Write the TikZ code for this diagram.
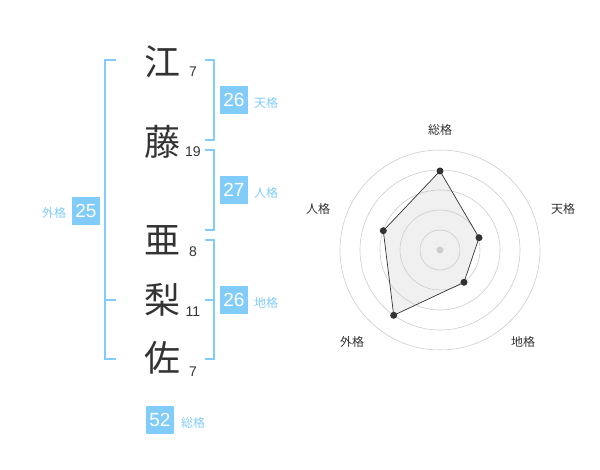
\documentclass[tikz,border=0pt]{standalone}
\usepackage{fontspec}
\setmainfont{Liberation Sans}
\newfontfamily\jp{Noto Sans CJK JP}
\definecolor{sky}{RGB}{130,204,250}
\definecolor{ink}{RGB}{51,51,51}
\definecolor{ring}{RGB}{204,204,204}
\tikzset{
  kanji/.style={font=\jp\fontsize{36}{36}\selectfont, text=ink, inner sep=0pt},
  strokes/.style={font=\fontsize{14}{14}\selectfont, text=ink, inner sep=0pt},
  valbox/.style={fill=sky, text=white, minimum width=28pt, minimum height=28pt, inner sep=0pt, font=\fontsize{19}{19}\selectfont},
  lbl/.style={font=\jp\fontsize{12}{12}\selectfont, text=sky, inner sep=0pt},
  brk/.style={draw=sky, line width=1.5pt},
  rlbl/.style={font=\jp\fontsize{12}{12}\selectfont, text=ink, inner sep=0pt},
  dot/.style={circle, fill=ink, inner sep=0pt, minimum size=7pt}
}
\begin{document}
\begin{tikzpicture}[x=1pt,y=-1pt]
\useasboundingbox (0,0) rectangle (600,470);
% kanji
\node[kanji] (k1) at (162,62) {江};
\node[kanji] (k2) at (162,142) {藤};
\node[kanji] (k3) at (162,240) {亜};
\node[kanji] (k4) at (162,300) {梨};
\node[kanji] (k5) at (162,358) {佐};
\node[strokes] (n1) at (193,72) {7};
\node[strokes] (n2) at (193,152) {19};
\node[strokes] (n3) at (193,252) {8};
\node[strokes] (n4) at (193,312) {11};
\node[strokes] (n5) at (193,372) {7};
% brackets
\draw[brk] (205,60) -- (214,60) -- (214,140) -- (205,140);
\draw[brk] (205,150) -- (214,150) -- (214,230) -- (205,230);
\draw[brk] (205,240) -- (214,240) -- (214,359) -- (205,359);
\draw[brk] (214,300) -- (205,300);
\draw[brk] (116,60) -- (105,60) -- (105,359) -- (116,359);
\draw[brk] (105,300) -- (116,300);
% values
\node[valbox] (v1) at (234,100) {26};
\node[lbl] (l1) at (266,103) {天格};
\node[valbox] (v2) at (234,190) {27};
\node[lbl] (l2) at (266,193) {人格};
\node[valbox] (v3) at (234,300) {26};
\node[lbl] (l3) at (266,303) {地格};
\node[valbox] (v4) at (86,211) {25};
\node[lbl] (l4) at (54,213) {外格};
\node[valbox] (v5) at (160,420) {52};
\node[lbl] (l5) at (193,423) {総格};
% radar
\coordinate (c) at (440,250);
\coordinate (p1) at (440,171);
\coordinate (p2) at (479,237.7);
\coordinate (p3) at (464,282.3);
\coordinate (p4) at (393.7,315.3);
\coordinate (p5) at (383.3,230.7);
\fill[black!6] (p1) -- (p2) -- (p3) -- (p4) -- (p5) -- cycle;
\foreach \r in {20,40,60,80,100} \draw[ring, line width=0.6pt] (c) circle[radius=\r];
\draw[ink, line width=0.7pt] (p1) -- (p2) -- (p3) -- (p4) -- (p5) -- cycle;
\fill[ring] (c) circle[radius=3.5];
\foreach \p in {p1,p2,p3,p4,p5} \node[dot] at (\p) {};
\node[rlbl] (r1) at (440,130) {総格};
\node[rlbl] (r2) at (563,209) {天格};
\node[rlbl] (r3) at (523,342) {地格};
\node[rlbl] (r4) at (352,342) {外格};
\node[rlbl] (r5) at (318,209) {人格};
\end{tikzpicture}
\end{document}
